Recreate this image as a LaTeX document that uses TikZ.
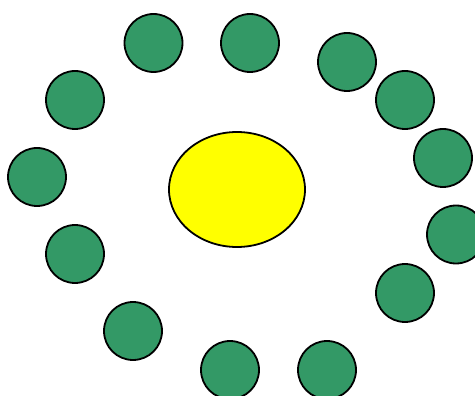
\documentclass[tikz,border=0pt]{standalone}
\usetikzlibrary{shapes.geometric}
\definecolor{gr}{HTML}{339966}
\definecolor{yl}{HTML}{FFFF00}
\begin{document}
\begin{tikzpicture}[x=1pt,y=-1pt,
  dot/.style={circle,draw=black,fill=gr,line width=1.8pt,minimum size=58pt,inner sep=0pt},
  sun/.style={ellipse,draw=black,fill=yl,line width=1.8pt,minimum width=136pt,minimum height=115pt,inner sep=0pt}]
\useasboundingbox (0,0) rectangle (475,396);
\node[sun] (s) at (237,189.5) {};
\node[dot] (c1) at (153.5,43) {};
\node[dot] (c2) at (250,43) {};
\node[dot] (c3) at (347,62) {};
\node[dot] (c4) at (405,100) {};
\node[dot] (c5) at (443,158) {};
\node[dot] (c6) at (456,234.5) {};
\node[dot] (c7) at (405,293) {};
\node[dot] (c8) at (327,370) {};
\node[dot] (c9) at (230,370) {};
\node[dot] (c10) at (133,331) {};
\node[dot] (c11) at (75,254) {};
\node[dot] (c12) at (37,177) {};
\node[dot] (c13) at (75,100) {};
\end{tikzpicture}
\end{document}
